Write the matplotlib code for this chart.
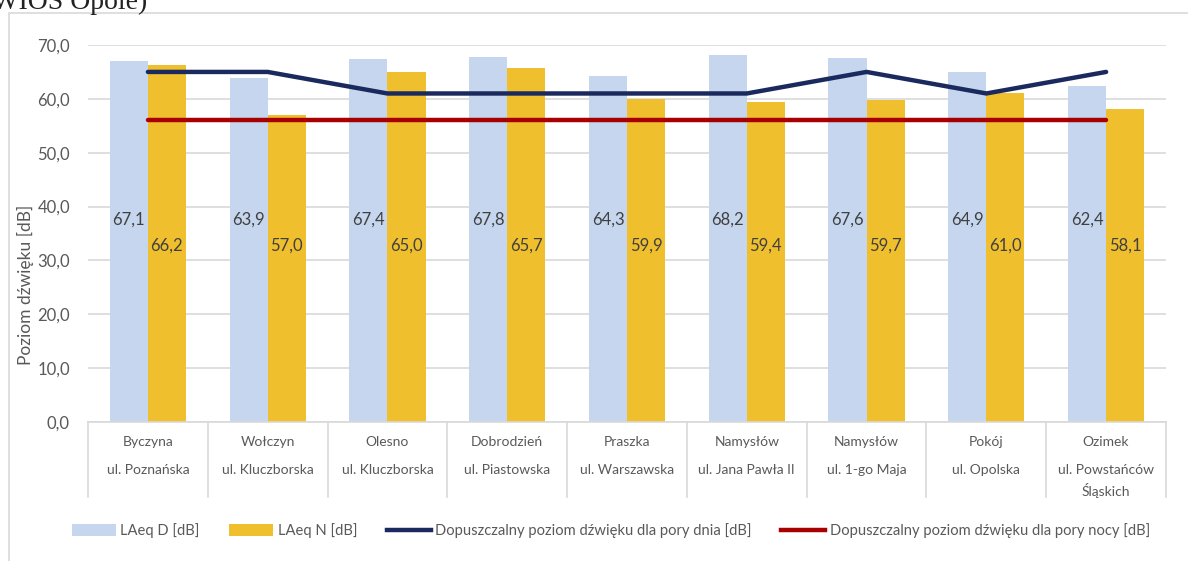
import matplotlib
matplotlib.use("Agg")
import matplotlib.pyplot as plt
import matplotlib.transforms as mtransforms
from matplotlib.patches import Patch, Rectangle
from matplotlib.lines import Line2D
import numpy as np

# ---- data ----
towns = ["Byczyna", "Wołczyn", "Olesno", "Dobrodzień", "Praszka",
         "Namysłów", "Namysłów", "Pokój", "Ozimek"]
streets = ["ul. Poznańska", "ul. Kluczborska", "ul. Kluczborska", "ul. Piastowska",
           "ul. Warszawska", "ul. Jana Pawła II", "ul. 1-go Maja", "ul. Opolska",
           "ul. Powstańców\nŚląskich"]
laeq_d = [67.1, 63.9, 67.4, 67.8, 64.3, 68.2, 67.6, 64.9, 62.4]
laeq_n = [66.2, 57.0, 65.0, 65.7, 59.9, 59.4, 59.7, 61.0, 58.1]
limit_day = [65, 65, 61, 61, 61, 61, 65, 61, 65]
limit_night = [56, 56, 56, 56, 56, 56, 56, 56, 56]
yticks = [0, 10, 20, 30, 40, 50, 60, 70]

series_labels = ["LAeq D [dB]", "LAeq N [dB]",
                 "Dopuszczalny poziom dźwięku dla pory dnia [dB]",
                 "Dopuszczalny poziom dźwięku dla pory nocy [dB]"]

# ---- style ----
FONT = ["Lato", "DejaVu Sans"]
plt.rcParams["font.family"] = FONT
C_D = "#C5D6EE"
C_N = "#EFBF2E"
C_DAY = "#1B2A5E"
C_NIGHT = "#A80000"
GRID = "#D9D9D9"
TXT = "#595959"

W, H = 1188, 561
fig = plt.figure(figsize=(W / 100, H / 100), dpi=100)

# chart frame
fig.patches.append(Rectangle((9 / W, -0.05), 1.2, 1 - 13 / H + 0.05,
                             transform=fig.transFigure, fill=False,
                             edgecolor=GRID, linewidth=1.2, zorder=0))
# header text from the document above (partly outside the picture, as in the reference)
fig.text(-0.014, 1.0, "(WIOŚ Opole)", family=["Liberation Serif"], fontsize=20,
         color="#222222", ha="left", va="center")

ax = fig.add_axes([88 / W, 1 - 422 / H, (1166 - 88) / W, (422 - 45) / H])
x = np.arange(len(towns))
bw = 0.318
ax.bar(x - bw / 2, laeq_d, bw, color=C_D, zorder=2)
ax.bar(x + bw / 2, laeq_n, bw, color=C_N, zorder=2)
ax.plot(x, limit_day, color=C_DAY, lw=3.2, zorder=3, solid_capstyle="round")
ax.plot(x, limit_night, color=C_NIGHT, lw=3.2, zorder=3, solid_capstyle="round")

for xi, vd, vn in zip(x, laeq_d, laeq_n):
    ax.text(xi - bw / 2, 37.5, f"{vd:.1f}".replace(".", ","), ha="center",
            va="center", fontsize=12, color="#404040", zorder=4)
    ax.text(xi + bw / 2, 32.8, f"{vn:.1f}".replace(".", ","), ha="center",
            va="center", fontsize=12, color="#404040", zorder=4)

ax.set_xlim(-0.5, len(towns) - 0.5)
ax.set_ylim(0, 70)
ax.set_yticks(yticks)
ax.set_yticklabels([f"{v:.1f}".replace(".", ",") for v in yticks],
                   fontsize=12, color=TXT)
ax.tick_params(axis="y", length=0, pad=13)
ax.set_xticks([])
ax.grid(axis="y", color=GRID, lw=1.2, zorder=0)
ax.set_axisbelow(True)
for s in ["left", "right", "top"]:
    ax.spines[s].set_visible(False)
ax.spines["bottom"].set_color(GRID)
ax.spines["bottom"].set_linewidth(1.2)

# category separators and labels
trans = mtransforms.blended_transform_factory(ax.transData, ax.transAxes)
for b in np.arange(len(towns) + 1) - 0.5:
    ax.plot([b, b], [0, -75 / 377], color=GRID, lw=1.2, transform=trans,
            clip_on=False)
for xi, t, s in zip(x, towns, streets):
    ax.text(xi, -20 / 377, t, ha="center", va="center", fontsize=10,
            color=TXT, transform=trans)
    for k, line in enumerate(s.split("\n")):
        ax.text(xi, -48 / 377 - k * 20 / 377, line, ha="center", va="center",
                fontsize=10, color=TXT, transform=trans)

fig.text(25 / W, 1 - 285 / H, "Poziom dźwięku [dB]", rotation=90,
         ha="center", va="center", fontsize=12.5, color=TXT)

handles = [Patch(facecolor=C_D), Patch(facecolor=C_N),
           Line2D([], [], color=C_DAY, lw=3.2), Line2D([], [], color=C_NIGHT, lw=3.2)]
leg = fig.legend(handles, series_labels, ncol=4, loc="center",
                 bbox_to_anchor=(611 / W, 1 - 531 / H), frameon=False,
                 fontsize=10.6, handlelength=3.0, handleheight=0.9,
                 handletextpad=0.3, columnspacing=2.0)
for t in leg.get_texts():
    t.set_color(TXT)

fig.savefig("out.png", dpi=100)
